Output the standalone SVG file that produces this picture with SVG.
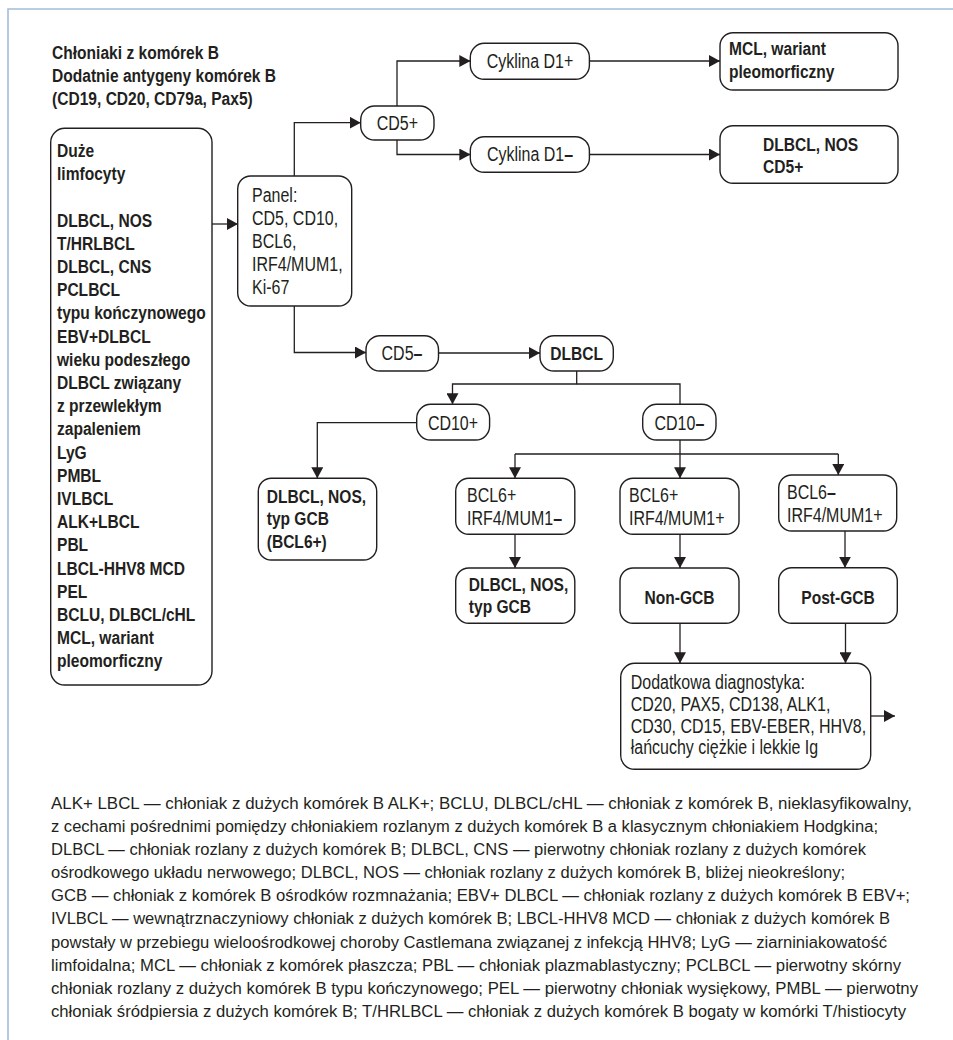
<svg xmlns="http://www.w3.org/2000/svg" width="953" height="1040" viewBox="0 0 953 1040">
  <defs>
    <marker id="arrow" viewBox="0 0 11 12" markerWidth="11" markerHeight="12" refX="11" refY="6" orient="auto" markerUnits="userSpaceOnUse">
      <path d="M0,0 L11,6 L0,12 Z" fill="#231f20"/>
    </marker>
    <style>
      .frame { fill: none; stroke: #a4bcdc; stroke-width: 1.6; }
      .box { fill: #ffffff; stroke: #231f20; stroke-width: 1.4; }
      .wire { fill: none; stroke: #231f20; stroke-width: 1.3; }
      .arr { marker-end: url(#arrow); }
      text { font-family: "Liberation Sans", Arial, sans-serif; fill: #231f20; }
      .t { font-size: 19.5px; }
      .b { font-size: 19px; font-weight: 700; }
      .mid { text-anchor: middle; }
      .d { font-weight: 700; }
      .note { font-size: 17.3px; }
    </style>
  </defs>

  <!-- page frame -->
  <path class="frame" d="M8,1040 V9 H953"/>

  <!-- heading (condensed by a horizontal scale of 0.82) -->
  <g id="heading">
    <text class="b" transform="translate(52 59) scale(.82 1)">
      <tspan x="0" y="0">Chłoniaki z komórek B</tspan>
      <tspan x="0" y="23">Dodatnie antygeny komórek B</tspan>
      <tspan x="0" y="46">(CD19, CD20, CD79a, Pax5)</tspan>
    </text>
  </g>

  <!-- connectors -->
  <g id="connectors">
    <path class="wire arr" d="M212,224 H238"/>
    <path class="wire arr" d="M294.3,176 V122.7 H360.7"/>
    <path class="wire arr" d="M294.3,306 V352.5 H366"/>
    <path class="wire arr" d="M397,106 V61 H470.3"/>
    <path class="wire arr" d="M397,140 V154.5 H470.3"/>
    <path class="wire arr" d="M589.4,61 H720"/>
    <path class="wire arr" d="M589.4,154.5 H720"/>
    <path class="wire arr" d="M438.5,353 H540"/>
    <path class="wire arr" d="M576.7,371 V384 H452.5 V404.3"/>
    <path class="wire" d="M576.7,384 H680 V404.3"/>
    <path class="wire arr" d="M416.7,422.7 H317.3 V478.3"/>
    <path class="wire" d="M680,440 V454 M515,454 H838.3"/>
    <path class="wire arr" d="M515,454 V478.3"/>
    <path class="wire arr" d="M680,454 V478.3"/>
    <path class="wire arr" d="M838.3,454 V475"/>
    <path class="wire arr" d="M515,534.3 V568"/>
    <path class="wire arr" d="M680,534.3 V568"/>
    <path class="wire arr" d="M845,531 V567.7"/>
    <path class="wire arr" d="M680,623.3 V663.3"/>
    <path class="wire arr" d="M845.5,623.3 V663.3"/>
    <path class="wire arr" d="M870.7,716 H895"/>
  </g>

  <!-- large cell lymphoma list -->
  <g id="node-lista">
    <rect class="box" x="50.7" y="128.3" width="161.3" height="556.7" rx="14"/>
    <text class="b" transform="translate(57 157) scale(.82 1)">
      <tspan x="0" y="0">Duże</tspan>
      <tspan x="0" y="23.2">limfocyty</tspan>
      <tspan x="0" y="69.6">DLBCL, NOS</tspan>
      <tspan x="0" y="92.8">T/HRLBCL</tspan>
      <tspan x="0" y="116">DLBCL, CNS</tspan>
      <tspan x="0" y="139.2">PCLBCL</tspan>
      <tspan x="0" y="162.4">typu kończynowego</tspan>
      <tspan x="0" y="185.6">EBV+DLBCL</tspan>
      <tspan x="0" y="208.8">wieku podeszłego</tspan>
      <tspan x="0" y="232">DLBCL związany</tspan>
      <tspan x="0" y="255.2">z przewlekłym</tspan>
      <tspan x="0" y="278.4">zapaleniem</tspan>
      <tspan x="0" y="301.6">LyG</tspan>
      <tspan x="0" y="324.8">PMBL</tspan>
      <tspan x="0" y="348">IVLBCL</tspan>
      <tspan x="0" y="371.2">ALK+LBCL</tspan>
      <tspan x="0" y="394.4">PBL</tspan>
      <tspan x="0" y="417.6">LBCL-HHV8 MCD</tspan>
      <tspan x="0" y="440.8">PEL</tspan>
      <tspan x="0" y="464">BCLU, DLBCL/cHL</tspan>
      <tspan x="0" y="487.2">MCL, wariant</tspan>
      <tspan x="0" y="510.4">pleomorficzny</tspan>
    </text>
  </g>

  <g id="node-panel">
    <rect class="box" x="237.7" y="176" width="114" height="130" rx="13"/>
    <text class="t" transform="translate(252 202) scale(.82 1)">
      <tspan x="0" y="0">Panel:</tspan>
      <tspan x="0" y="23">CD5, CD10,</tspan>
      <tspan x="0" y="46">BCL6,</tspan>
      <tspan x="0" y="69.5">IRF4/MUM1,</tspan>
      <tspan x="0" y="92">Ki-67</tspan>
    </text>
  </g>

  <g id="node-cd5-plus">
    <rect class="box" x="360.7" y="106" width="73.3" height="34" rx="14"/>
    <text class="t mid" transform="translate(397.4 130) scale(.82 1)">CD5+</text>
  </g>

  <g id="node-cyklina-plus">
    <rect class="box" x="470.3" y="43.3" width="119.1" height="36" rx="14"/>
    <text class="t mid" transform="translate(530 68) scale(.82 1)">Cyklina D1+</text>
  </g>

  <g id="node-cyklina-minus">
    <rect class="box" x="470.3" y="136.7" width="119.1" height="35.6" rx="14"/>
    <text class="t mid" transform="translate(530 161) scale(.82 1)">Cyklina D1<tspan class="d">–</tspan></text>
  </g>

  <g id="node-mcl">
    <rect class="box" x="720" y="32.7" width="178" height="57.3" rx="13"/>
    <text class="b" transform="translate(729 55) scale(.82 1)">
      <tspan x="0" y="0">MCL, wariant</tspan>
      <tspan x="0" y="23.3">pleomorficzny</tspan>
    </text>
  </g>

  <g id="node-dlbcl-cd5">
    <rect class="box" x="720" y="125.7" width="178" height="57.6" rx="13"/>
    <text class="b" transform="translate(763 150.5) scale(.82 1)">
      <tspan x="0" y="0">DLBCL, NOS</tspan>
      <tspan x="0" y="23">CD5+</tspan>
    </text>
  </g>

  <g id="node-cd5-minus">
    <rect class="box" x="366" y="335.7" width="72.5" height="35.3" rx="14"/>
    <text class="t mid" transform="translate(402 360) scale(.82 1)">CD5<tspan class="d">–</tspan></text>
  </g>

  <g id="node-dlbcl">
    <rect class="box" x="540" y="335.7" width="73.3" height="35.3" rx="14"/>
    <text class="b mid" transform="translate(576.7 360) scale(.82 1)">DLBCL</text>
  </g>

  <g id="node-cd10-plus">
    <rect class="box" x="416.7" y="404.3" width="72.9" height="35.7" rx="14"/>
    <text class="t mid" transform="translate(453 429.5) scale(.82 1)">CD10+</text>
  </g>

  <g id="node-cd10-minus">
    <rect class="box" x="642.7" y="404.3" width="73.3" height="35.7" rx="14"/>
    <text class="t mid" transform="translate(679.4 429.5) scale(.82 1)">CD10<tspan class="d">–</tspan></text>
  </g>

  <g id="node-gcb-bcl6">
    <rect class="box" x="258.3" y="478.3" width="118.4" height="81.7" rx="13"/>
    <text class="b" transform="translate(266.7 502.5) scale(.82 1)">
      <tspan x="0" y="0">DLBCL, NOS,</tspan>
      <tspan x="0" y="23">typ GCB</tspan>
      <tspan x="0" y="45.5">(BCL6+)</tspan>
    </text>
  </g>

  <g id="node-bcl6p-irf4m">
    <rect class="box" x="455.7" y="478.3" width="119.1" height="56" rx="13"/>
    <text class="t" transform="translate(467 502.3) scale(.82 1)">
      <tspan x="0" y="0">BCL6+</tspan>
      <tspan x="0" y="22.7">IRF4/MUM1<tspan class="d">–</tspan></tspan>
    </text>
  </g>

  <g id="node-bcl6p-irf4p">
    <rect class="box" x="620" y="478.3" width="119" height="56" rx="13"/>
    <text class="t" transform="translate(629 502.3) scale(.82 1)">
      <tspan x="0" y="0">BCL6+</tspan>
      <tspan x="0" y="22.7">IRF4/MUM1+</tspan>
    </text>
  </g>

  <g id="node-bcl6m-irf4p">
    <rect class="box" x="778.7" y="475" width="118" height="56" rx="13"/>
    <text class="t" transform="translate(787 499) scale(.82 1)">
      <tspan x="0" y="0">BCL6<tspan class="d">–</tspan></tspan>
      <tspan x="0" y="22.7">IRF4/MUM1+</tspan>
    </text>
  </g>

  <g id="node-gcb">
    <rect class="box" x="455.7" y="568" width="119.1" height="55.3" rx="13"/>
    <text class="b" transform="translate(468.8 591) scale(.82 1)">
      <tspan x="0" y="0">DLBCL, NOS,</tspan>
      <tspan x="0" y="22">typ GCB</tspan>
    </text>
  </g>

  <g id="node-non-gcb">
    <rect class="box" x="620" y="568" width="119" height="55.3" rx="13"/>
    <text class="b mid" transform="translate(679.5 604) scale(.82 1)">Non-GCB</text>
  </g>

  <g id="node-post-gcb">
    <rect class="box" x="778.7" y="567.7" width="118.6" height="55.6" rx="13"/>
    <text class="b mid" transform="translate(838 604) scale(.82 1)">Post-GCB</text>
  </g>

  <g id="node-dodatkowa">
    <rect class="box" x="620.7" y="663.3" width="250" height="106" rx="14"/>
    <text class="t" transform="translate(630.7 689.3) scale(.82 1)">
      <tspan x="0" y="0">Dodatkowa diagnostyka:</tspan>
      <tspan x="0" y="21.7">CD20, PAX5, CD138, ALK1,</tspan>
      <tspan x="0" y="43.4">CD30, CD15, EBV-EBER, HHV8,</tspan>
      <tspan x="0" y="65">łańcuchy ciężkie i lekkie Ig</tspan>
    </text>
  </g>

  <!-- abbreviations -->
  <g id="abbreviations">
    <text class="note" x="51" y="809" textLength="861" lengthAdjust="spacingAndGlyphs">ALK+ LBCL — chłoniak z dużych komórek B ALK+; BCLU, DLBCL/cHL — chłoniak z komórek B, nieklasyfikowalny,</text>
    <text class="note" x="51" y="832" textLength="827" lengthAdjust="spacingAndGlyphs">z cechami pośrednimi pomiędzy chłoniakiem rozlanym z dużych komórek B a klasycznym chłoniakiem Hodgkina;</text>
    <text class="note" x="51" y="855" textLength="815" lengthAdjust="spacingAndGlyphs">DLBCL — chłoniak rozlany z dużych komórek B; DLBCL, CNS — pierwotny chłoniak rozlany z dużych komórek</text>
    <text class="note" x="51" y="878" textLength="794" lengthAdjust="spacingAndGlyphs">ośrodkowego układu nerwowego; DLBCL, NOS — chłoniak rozlany z dużych komórek B, bliżej nieokreślony;</text>
    <text class="note" x="51" y="901" textLength="859" lengthAdjust="spacingAndGlyphs">GCB — chłoniak z komórek B ośrodków rozmnażania; EBV+ DLBCL — chłoniak rozlany z dużych komórek B EBV+;</text>
    <text class="note" x="51" y="924" textLength="839" lengthAdjust="spacingAndGlyphs">IVLBCL — wewnątrznaczyniowy chłoniak z dużych komórek B; LBCL-HHV8 MCD — chłoniak z dużych komórek B</text>
    <text class="note" x="51" y="948" textLength="836" lengthAdjust="spacingAndGlyphs">powstały w przebiegu wieloośrodkowej choroby Castlemana związanej z infekcją HHV8; LyG — ziarniniakowatość</text>
    <text class="note" x="51" y="971" textLength="850" lengthAdjust="spacingAndGlyphs">limfoidalna; MCL — chłoniak z komórek płaszcza; PBL — chłoniak plazmablastyczny; PCLBCL — pierwotny skórny</text>
    <text class="note" x="51" y="994" textLength="867" lengthAdjust="spacingAndGlyphs">chłoniak rozlany z dużych komórek B typu kończynowego; PEL — pierwotny chłoniak wysiękowy, PMBL — pierwotny</text>
    <text class="note" x="51" y="1017" textLength="855" lengthAdjust="spacingAndGlyphs">chłoniak śródpiersia z dużych komórek B; T/HRLBCL — chłoniak z dużych komórek B bogaty w komórki T/histiocyty</text>
  </g>
</svg>
